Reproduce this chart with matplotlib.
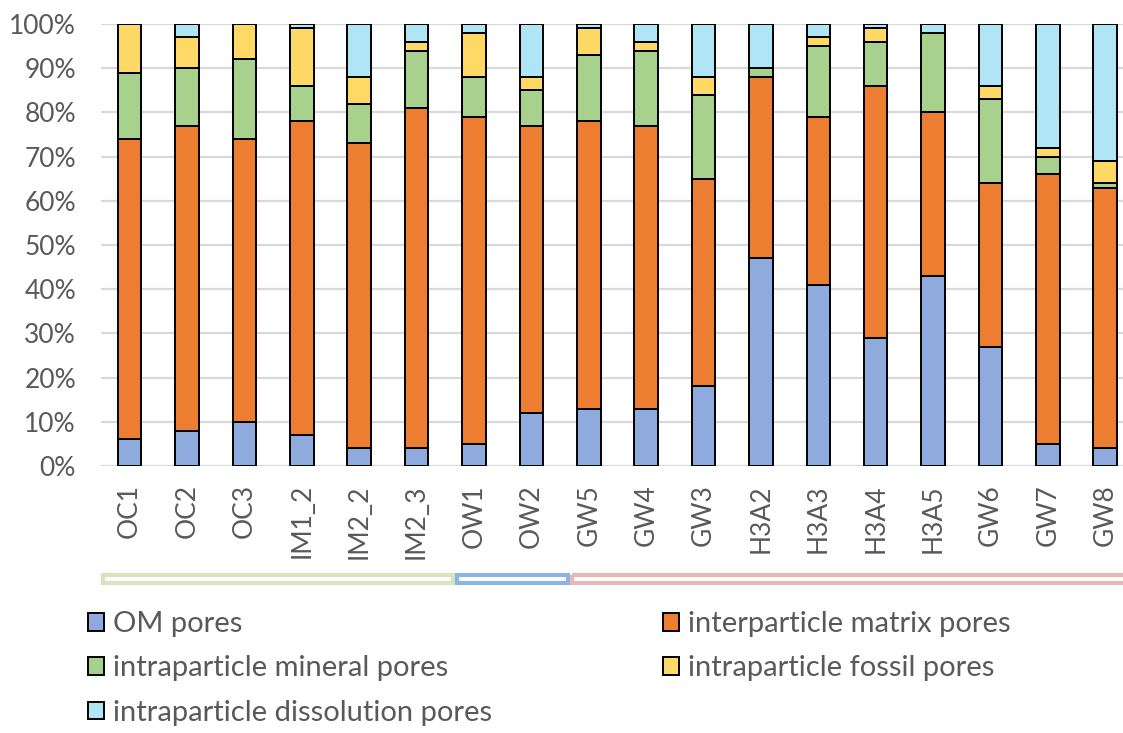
import matplotlib
matplotlib.use("Agg")
import matplotlib.pyplot as plt
from matplotlib.patches import Rectangle, Patch
from matplotlib.ticker import PercentFormatter

plt.rcParams['font.family'] = ['Lato', 'DejaVu Sans']

samples = ['OC1', 'OC2', 'OC3', 'IM1_2', 'IM2_2', 'IM2_3', 'OW1', 'OW2', 'GW5',
           'GW4', 'GW3', 'H3A2', 'H3A3', 'H3A4', 'H3A5', 'GW6', 'GW7', 'GW8']
om_pores = [6, 8, 10, 7, 4, 4, 5, 12, 13, 13, 18, 47, 41, 29, 43, 27, 5, 4]
matrix_pores = [68, 69, 64, 71, 69, 77, 74, 65, 65, 64, 47, 41, 38, 57, 37, 37, 61, 59]
mineral_pores = [15, 13, 18, 8, 9, 13, 9, 8, 15, 17, 19, 2, 16, 10, 18, 19, 4, 1]
fossil_pores = [11, 7, 8, 13, 6, 2, 10, 3, 6, 2, 4, 0, 2, 3, 0, 3, 2, 5]
dissolution_pores = [0, 3, 0, 1, 12, 4, 2, 12, 1, 4, 12, 10, 3, 1, 2, 14, 28, 31]

series = [
    ('OM pores', om_pores, '#8faadc'),
    ('interparticle matrix pores', matrix_pores, '#ed7d31'),
    ('intraparticle mineral pores', mineral_pores, '#a9d18e'),
    ('intraparticle fossil pores', fossil_pores, '#ffd966'),
    ('intraparticle dissolution pores', dissolution_pores, '#afe5f5'),
]

# sample groups: (first index, last index, colour)
groups = [(0, 5, '#d7e4bd'), (6, 7, '#8db4e2'), (8, 17, '#e6b9b8')]

txt = '#595959'
W, H = 1123, 733
fig = plt.figure(figsize=(W / 100, H / 100), dpi=100)
ax = fig.add_axes([101 / W, 1 - 466 / H, (1123 - 101) / W, (466 - 24) / H])

x = list(range(len(samples)))
bottom = [0] * len(samples)
for name, vals, col in series:
    ax.bar(x, vals, 0.41, bottom=bottom, color=col, edgecolor='black',
           linewidth=1.4, label=name, zorder=3)
    bottom = [b + v for b, v in zip(bottom, vals)]

ax.set_ylim(0, 100)
ax.set_xlim(-0.5, 17.31)
ax.set_yticks(range(0, 101, 10))
ax.yaxis.set_major_formatter(PercentFormatter(decimals=0))
ax.grid(axis='y', color='#d9d9d9', linewidth=1.6, zorder=0)
ax.set_axisbelow(True)
for s in ax.spines.values():
    s.set_visible(False)
ax.tick_params(length=0, labelsize=19, colors=txt)
ax.tick_params(axis='y', pad=18)
ax.set_xticks(x)
ax.set_xticklabels(samples, rotation=90)
ax.tick_params(axis='x', pad=13)

# group brackets under the sample names
for i0, i1, col in groups:
    x0 = i0 - 0.47 + (0.17 if i0 > 0 else 0)
    x1 = i1 + 0.63
    ax.add_patch(Rectangle((x0, -24.7), x1 - x0, -1.8, fill=False,
                           edgecolor=col, linewidth=3, clip_on=False))

handles = [Patch(facecolor=c, edgecolor='black', linewidth=1.4) for _, _, c in series]
labels = [n for n, _, _ in series]
order = [0, 2, 4, 1, 3]
fig.legend([handles[i] for i in order], [labels[i] for i in order], ncol=2,
           loc='upper left', bbox_to_anchor=(88 / W, 1 - 611 / H), frameon=False,
           fontsize=21, labelcolor=txt, handlelength=0.56, handleheight=0.56,
           handletextpad=0.3, columnspacing=5.85, labelspacing=0.63, borderpad=0,
           borderaxespad=0)

fig.savefig('out.png', dpi=100)
